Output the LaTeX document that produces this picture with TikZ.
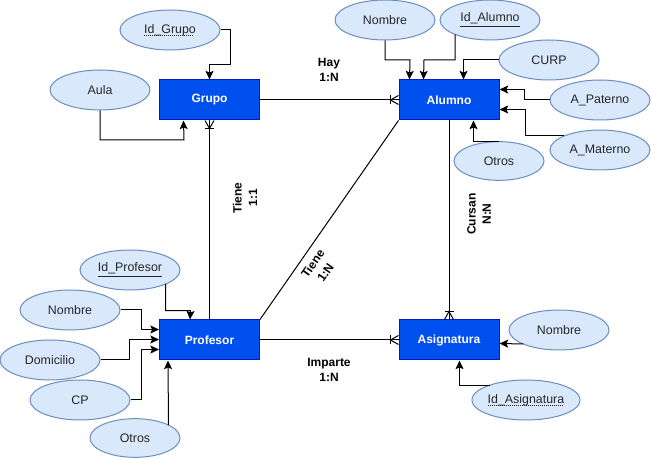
\documentclass[tikz,border=0pt]{standalone}
\usepackage{fontspec}
\setmainfont{Liberation Sans}
\usetikzlibrary{arrows.meta,calc,shapes.geometric}
\definecolor{entfill}{HTML}{0050EF}
\definecolor{entdraw}{HTML}{001DBC}
\definecolor{attfill}{HTML}{DAE8FC}
\definecolor{attdraw}{HTML}{6C8EBF}
\newcommand{\crowfoot}[2]{%
  \begin{scope}[shift={(#1)},rotate=#2]
    \draw[rel] (-8,-4.5) -- (-8,4.5);
    \draw[rel] (0,-4.5) -- (-8,0) -- (0,4.5);
  \end{scope}}
\newcommand{\dotul}[1]{\setbox0=\hbox{#1}\rlap{\raisebox{-1.8pt}{\hbox to \wd0{\leaders\hbox to 1.5pt{\vrule width 0.75pt height 0.5pt\hss}\hfill}}}\box0}
\begin{document}
\begin{tikzpicture}[x=0.75pt,y=-0.75pt,
  entity/.style={draw=entdraw, fill=entfill, line width=0.75pt, minimum width=75pt, minimum height=30pt, inner sep=0pt, text=white, font=\bfseries\fontsize{9}{11}\selectfont},
  attr/.style={ellipse, draw=attdraw, fill=attfill, line width=0.75pt, minimum width=75pt, minimum height=30pt, inner sep=0pt, text=black!85, font=\fontsize{9.3}{11}\selectfont},
  smallattr/.style={attr, minimum width=67.5pt, minimum height=29pt},
  conn/.style={draw, line width=0.75pt, -{Stealth[length=6.5pt,width=6pt,inset=1.3pt]}},
  rel/.style={draw, line width=0.75pt},
  lbl/.style={align=center, inner sep=1pt, font=\bfseries\fontsize{9}{11.5}\selectfont}]
\useasboundingbox (0,0) rectangle (651,459);

% entities
\node[entity] (grupo) at (209.5,100) {Grupo};
\node[entity] (alumno) at (449,100) {Alumno};
\node[entity] (profesor) at (209.5,340) {Profesor};
\node[entity] (asig) at (449,340) {Asignatura};

% attributes
\node[attr] (idg) at (170,30) {\dotul{Id\_Grupo}};
\node[attr] (aula) at (100,90) {Aula};
\node[attr] (nomA) at (385,20) {Nombre};
\node[attr] (ida) at (490,20) {\underline{Id\_Alumno}};
\node[attr] (curp) at (549,60) {CURP};
\node[attr] (ap) at (600,100) {A\_Paterno};
\node[attr] (am) at (600,150) {A\_Materno};
\node[smallattr] (otA) at (499,161) {Otros};
\node[attr] (idp) at (130,270) {\underline{Id\_Profesor}};
\node[attr] (nomP) at (70,310) {Nombre};
\node[attr] (dom) at (50,360) {Domicilio};
\node[attr] (cp) at (80,400) {CP};
\node[smallattr] (otP) at (135,438) {Otros};
\node[attr] (nomS) at (559,330) {Nombre};
\node[attr] (ids) at (526,400) {\dotul{Id\_Asignatura}};

% attribute connectors
\draw[conn] (idg.east) -| (230,65) -| (grupo.north);
\draw[conn] (aula.south) |- (184,140) -- ($(grupo.south west)+(24.5,0)$);
\draw[conn] (nomA.south) |- (410,60) -- ($(alumno.north west)+(11,0)$);
\draw[conn] ($(ida.center)+(-35,14.3)$) |- (424,60) -- ($(alumno.north west)+(25,0)$);
\draw[conn] (curp.west) -| ($(alumno.north west)+(65,0)$);
\draw[conn] (ap.west) -- ++(-25,0) |- ($(alumno.north east)+(0,10)$);
\draw[conn] ($(am.center)+(-35.7,-14)$) -- ++(-39,0) |- ($(alumno.north east)+(0,30)$);
\draw[conn] (otA.north) -| ($(alumno.south west)+(75,0)$);
\draw[conn] ($(idp.center)+(35.5,14)$) |- (190.5,310.7) -- ($(profesor.north west)+(31,0)$);
\draw[conn] (nomP.east) -- ++(20.7,0) |- ($(profesor.north west)+(0,10)$);
\draw[conn] (dom.east) -- ++(29.3,0) |- ($(profesor.north west)+(0,20)$);
\draw[conn] (cp.east) -- ++(10.7,0) |- ($(profesor.north west)+(0,30)$);
\draw[conn] ($(otP.center)+(33.5,-12.8)$) -- ($(profesor.south west)+(9,0)$);
\draw[conn] ($(nomS.center)+(-35.7,14)$) -- ($(asig.north east)+(0,24)$);
\draw[conn] ($(ids.center)+(-35.7,-14)$) -| ($(asig.south west)+(61,0)$);

% relationships
\draw[rel] (grupo.east) -- (alumno.west);
\crowfoot{alumno.west}{0}
\draw[rel] (grupo.south) -- (profesor.north);
\crowfoot{grupo.south}{90}
\draw[rel] (alumno.south west) -- (profesor.north east);
\draw[rel] (alumno.south) -- (asig.north);
\crowfoot{asig.north}{-90}
\draw[rel] (profesor.east) -- (asig.west);
\crowfoot{asig.west}{0}

% relationship labels
\node[lbl] (hay) at (329,70) {Hay\\1:N};
\node[lbl, rotate=90] (tiene1) at (245,198) {Tiene\\1:1};
\node[lbl, rotate=55] (tiene2) at (319,268) {Tiene\\1:N};
\node[lbl, rotate=90] (cursan) at (479,214) {Cursan\\N:N};
\node[lbl] (imparte) at (329,370) {Imparte\\1:N};
\end{tikzpicture}
\end{document}
